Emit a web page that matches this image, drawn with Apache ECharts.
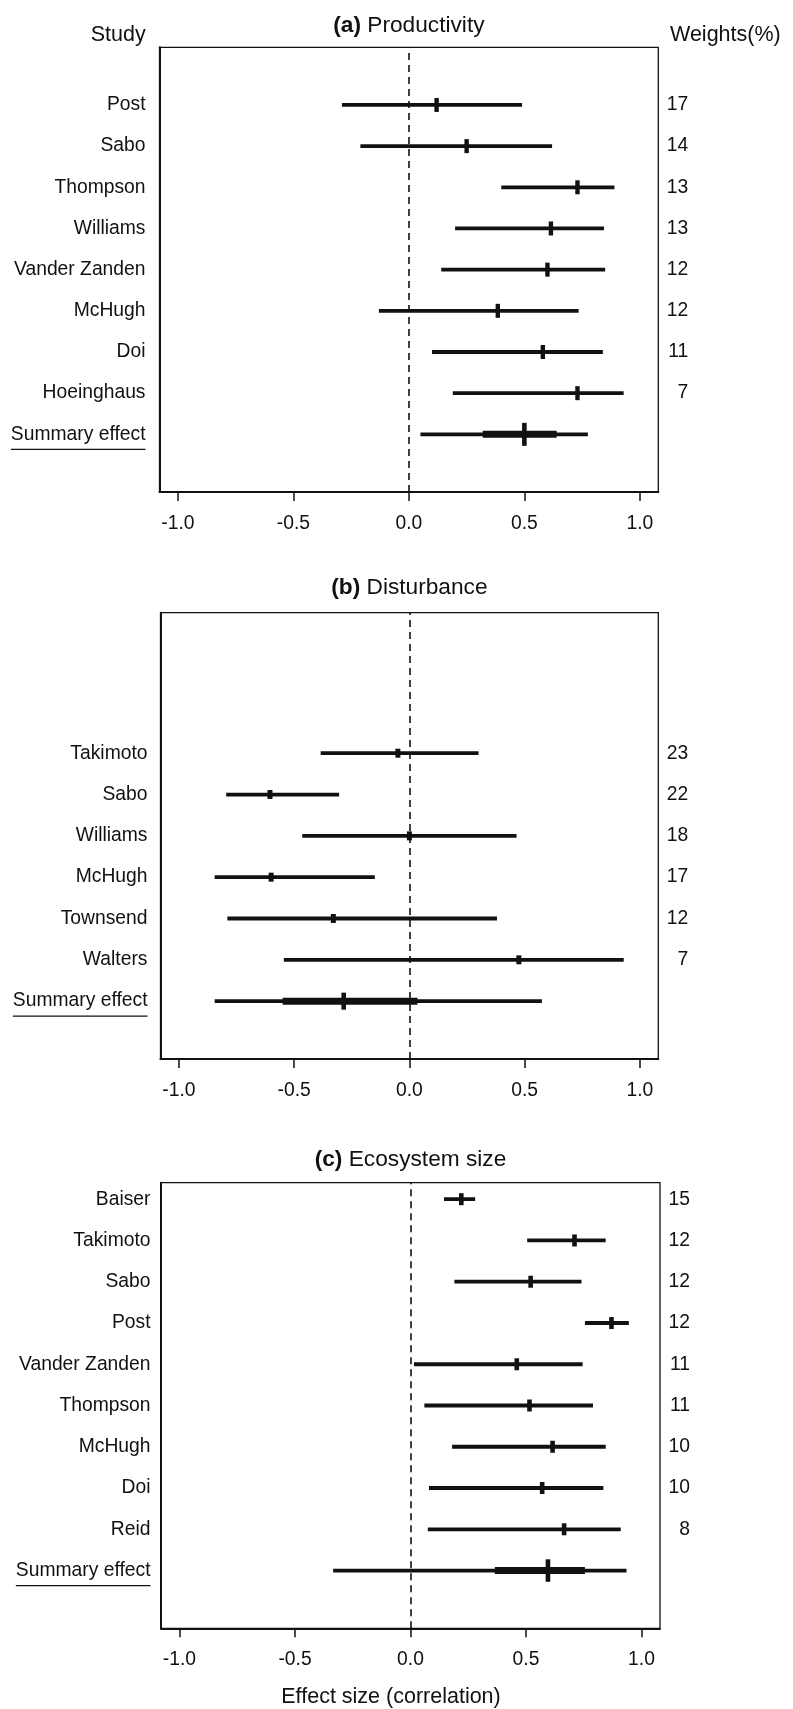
<!DOCTYPE html>
<html>
<head>
<meta charset="utf-8">
<script src="https://cdn.jsdelivr.net/npm/echarts@6/dist/echarts.min.js"></script>
<style>
  html, body { margin: 0; padding: 0; background: #ffffff; }
  #chart { width: 793px; height: 1709px; }
</style>
</head>
<body>
<div id="chart"></div>
<script>
// ---------------- DATA ----------------
// (a) Productivity
const studiesA = ['Post', 'Sabo', 'Thompson', 'Williams', 'Vander Zanden', 'McHugh', 'Doi', 'Hoeinghaus'];
const lowerA   = [-0.29, -0.21, 0.40, 0.20, 0.14, -0.13, 0.10, 0.19];
const estA     = [0.12, 0.25, 0.73, 0.615, 0.60, 0.385, 0.58, 0.73];
const upperA   = [0.49, 0.62, 0.89, 0.845, 0.85, 0.735, 0.84, 0.93];
const weightsA = [17, 14, 13, 13, 12, 12, 11, 7];
// summary: [lower, inner lower, estimate, inner upper, upper]
const summaryA = [0.05, 0.32, 0.50, 0.64, 0.775];

// (b) Disturbance
const studiesB = ['Takimoto', 'Sabo', 'Williams', 'McHugh', 'Townsend', 'Walters'];
const lowerB   = [-0.385, -0.795, -0.465, -0.845, -0.79, -0.545];
const estB     = [-0.05, -0.605, 0.0, -0.60, -0.33, 0.475];
const upperB   = [0.30, -0.305, 0.465, -0.15, 0.38, 0.93];
const weightsB = [23, 22, 18, 17, 12, 7];
const summaryB = [-0.845, -0.55, -0.285, 0.035, 0.575];

// (c) Ecosystem size
const studiesC = ['Baiser', 'Takimoto', 'Sabo', 'Post', 'Vander Zanden', 'Thompson', 'McHugh', 'Doi', 'Reid'];
const lowerC   = [0.145, 0.505, 0.19, 0.755, 0.015, 0.06, 0.18, 0.08, 0.075];
const estC     = [0.22, 0.71, 0.52, 0.87, 0.46, 0.515, 0.615, 0.57, 0.665];
const upperC   = [0.28, 0.845, 0.74, 0.945, 0.745, 0.79, 0.845, 0.835, 0.91];
const weightsC = [15, 12, 12, 12, 11, 11, 10, 10, 8];
const summaryC = [-0.335, 0.365, 0.595, 0.755, 0.935];

const panelLetters = ['(a)', '(b)', '(c)'];
const panelNames = ['Productivity', 'Disturbance', 'Ecosystem size'];
const summaryLabel = 'Summary effect';
const xTicks = [-1.0, -0.5, 0.0, 0.5, 1.0];
const xLabel = 'Effect size (correlation)';
const headerLeft = 'Study';
const headerRight = 'Weights(%)';

// ---------------- STYLE / LAYOUT ----------------
const FONT = '"Liberation Sans", Arial, Helvetica, sans-serif';
const INK = '#111111';
const BASE = 19.3;
const XMIN = -1.08, XMAX = 1.08, YMIN = -0.4, YMAX = 10.4;
const CI_WIDTH = 3.8, INNER_WIDTH = 7;

const layout = [
  { left: 159.5, width: 498.8, top: 47.3,   height: 444.7, labelMargin: 14,   tickH: 14, tickW: 4.4, sumTickH: 23, titleY: 26 },
  { left: 160.5, width: 497.8, top: 612.7,  height: 446.3, labelMargin: 13,   tickH: 9,  tickW: 5,   sumTickH: 17, titleY: 588 },
  { left: 161,   width: 499,   top: 1182.7, height: 445.6, labelMargin: 10.5, tickH: 12, tickW: 4.6, sumTickH: 22.5, titleY: 1160 }
];

const panels = [
  { studies: studiesA, lower: lowerA, est: estA, upper: upperA, weights: weightsA, summary: summaryA },
  { studies: studiesB, lower: lowerB, est: estB, upper: upperB, weights: weightsB, summary: summaryB },
  { studies: studiesC, lower: lowerC, est: estC, upper: upperC, weights: weightsC, summary: summaryC }
];

const measureCtx = document.createElement('canvas').getContext('2d');
measureCtx.font = BASE + 'px ' + FONT;
const summaryWidth = measureCtx.measureText(summaryLabel).width;

function makeRender(st) {
  return function (params, api) {
    const y = api.value(0);
    const lo = api.coord([api.value(1), y]);
    const es = api.coord([api.value(2), y]);
    const hi = api.coord([api.value(3), y]);
    const isSum = api.value(6) === 1;
    const children = [{
      type: 'line',
      shape: { x1: lo[0], y1: lo[1], x2: hi[0], y2: hi[1] },
      style: { stroke: INK, lineWidth: CI_WIDTH, lineCap: 'butt' }
    }];
    if (isSum) {
      const ilo = api.coord([api.value(4), y]);
      const ihi = api.coord([api.value(5), y]);
      children.push({
        type: 'line',
        shape: { x1: ilo[0], y1: ilo[1], x2: ihi[0], y2: ihi[1] },
        style: { stroke: INK, lineWidth: INNER_WIDTH, lineCap: 'butt' }
      });
      children.push({
        type: 'line',
        shape: { x1: es[0], y1: es[1] - st.sumTickH / 2, x2: es[0], y2: es[1] + st.sumTickH / 2 },
        style: { stroke: INK, lineWidth: 4.6, lineCap: 'butt' }
      });
      const xr = params.coordSys.x - st.labelMargin;
      children.push({
        type: 'line',
        shape: { x1: xr - summaryWidth, y1: es[1] + 15, x2: xr, y2: es[1] + 15 },
        style: { stroke: INK, lineWidth: 1.3 }
      });
    } else {
      children.push({
        type: 'line',
        shape: { x1: es[0], y1: es[1] - st.tickH / 2, x2: es[0], y2: es[1] + st.tickH / 2 },
        style: { stroke: INK, lineWidth: st.tickW, lineCap: 'butt' }
      });
    }
    return { type: 'group', children: children };
  };
}

const grid = [], xAxis = [], yAxis = [], series = [], graphic = [];

panels.forEach(function (p, k) {
  const st = layout[k];
  const n = p.studies.length + 1;
  const names = p.studies.concat([summaryLabel]);
  const rows = [];
  for (let v = 1; v <= n; v++) rows.push(v);
  const studyRows = rows.slice(1);

  grid.push({
    left: st.left, top: st.top, width: st.width, height: st.height,
    show: true, borderColor: INK, borderWidth: 1.3, backgroundColor: 'transparent',
    containLabel: false, outerBoundsMode: 'none'
  });

  xAxis.push({
    type: 'value', gridIndex: k, min: XMIN, max: XMAX,
    axisLine: { show: true, onZero: false, lineStyle: { color: INK, width: 2 } },
    axisTick: { show: true, customValues: xTicks, length: 9, lineStyle: { color: INK, width: 1.5 } },
    axisLabel: {
      show: true, customValues: xTicks, margin: 22,
      formatter: function (v) { return Number(v).toFixed(1); },
      fontFamily: FONT, fontSize: BASE, color: INK
    },
    splitLine: { show: false }
  });

  yAxis.push({
    type: 'value', gridIndex: k, min: YMIN, max: YMAX, position: 'left',
    axisLine: { show: true, onZero: false, lineStyle: { color: INK, width: 2 } },
    axisTick: { show: false },
    axisLabel: {
      show: true, customValues: rows, margin: st.labelMargin,
      formatter: function (v) { return names[n - Math.round(v)]; },
      fontFamily: FONT, fontSize: BASE, color: INK, padding: [6, 0, 0, 0]
    },
    splitLine: { show: false }
  });

  yAxis.push({
    type: 'value', gridIndex: k, min: YMIN, max: YMAX, position: 'right',
    axisLine: { show: false }, axisTick: { show: false },
    axisLabel: {
      show: true, customValues: studyRows, margin: 30, align: 'right',
      formatter: function (v) { return String(p.weights[n - Math.round(v)]); },
      fontFamily: FONT, fontSize: BASE, color: INK, padding: [6, 0, 0, 0]
    },
    splitLine: { show: false }
  });

  const data = p.studies.map(function (s, i) {
    return [n - i, p.lower[i], p.est[i], p.upper[i], 0, 0, 0];
  });
  data.push([1, p.summary[0], p.summary[2], p.summary[4], p.summary[1], p.summary[3], 1]);

  series.push({
    type: 'custom', xAxisIndex: k, yAxisIndex: 2 * k,
    renderItem: makeRender(st),
    encode: { x: [1, 2, 3], y: 0 },
    data: data, clip: false, silent: true, animation: false,
    markLine: {
      silent: true, symbol: ['none', 'none'], animation: false,
      label: { show: false },
      lineStyle: { color: INK, type: [7, 5], width: 1.6 },
      data: [{ xAxis: 0 }]
    }
  });

  graphic.push({
    type: 'text', x: st.left + st.width / 2, y: st.titleY,
    style: {
      text: '{b|' + panelLetters[k] + '} ' + panelNames[k],
      align: 'center', textAlign: 'center', verticalAlign: 'middle', textVerticalAlign: 'middle',
      fontFamily: FONT, fontSize: 22.7, fill: INK,
      rich: { b: { fontFamily: FONT, fontSize: 22.7, fontWeight: 'bold', fill: INK, color: INK } }
    }
  });
});

graphic.push({
  type: 'text', x: 145.7, y: 35,
  style: { text: headerLeft, align: 'right', textAlign: 'right', verticalAlign: 'middle', textVerticalAlign: 'middle',
           fontFamily: FONT, fontSize: 21.5, fill: INK }
});
graphic.push({
  type: 'text', x: 670, y: 35,
  style: { text: headerRight, align: 'left', textAlign: 'left', verticalAlign: 'middle', textVerticalAlign: 'middle',
           fontFamily: FONT, fontSize: 21.5, fill: INK }
});
graphic.push({
  type: 'text', x: 391, y: 1697,
  style: { text: xLabel, align: 'center', textAlign: 'center', verticalAlign: 'middle', textVerticalAlign: 'middle',
           fontFamily: FONT, fontSize: 21.5, fill: INK }
});

const chart = echarts.init(document.getElementById('chart'), null, { renderer: 'canvas' });
chart.setOption({
  animation: false,
  backgroundColor: '#ffffff',
  textStyle: { fontFamily: FONT },
  grid: grid, xAxis: xAxis, yAxis: yAxis, series: series, graphic: graphic
});
</script>
</body>
</html>
